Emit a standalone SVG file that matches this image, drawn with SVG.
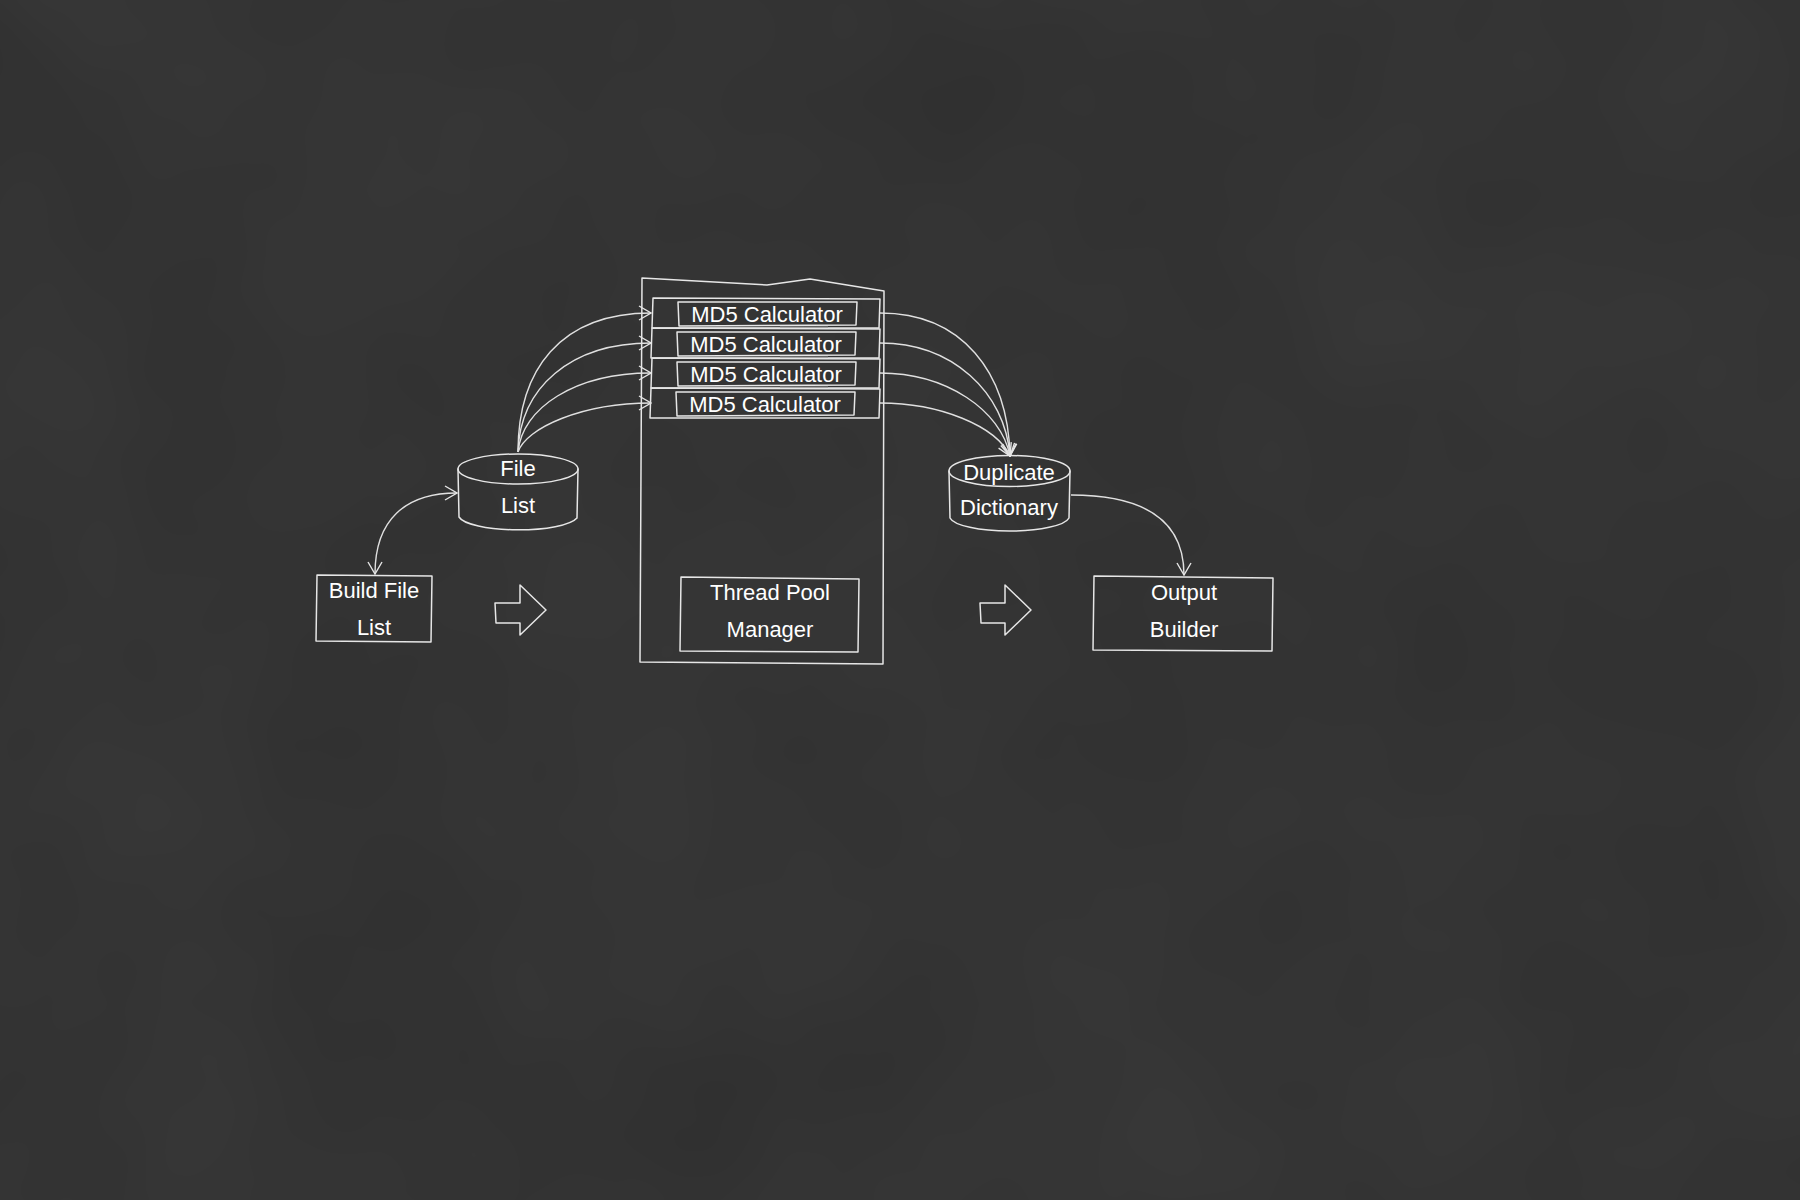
<svg xmlns="http://www.w3.org/2000/svg" width="1800" height="1200" viewBox="0 0 1800 1200">
<defs>
<style>
.ln{fill:none;stroke:#e6e6e6;stroke-width:1.5;stroke-linejoin:round;stroke-linecap:round}
.cn{fill:none;stroke:#e0e0e0;stroke-width:1.4}
.tx{fill:#ffffff;font-family:"Liberation Sans","DejaVu Sans",sans-serif;font-size:22px;text-anchor:middle}
.sm{fill:#8a8a8a;opacity:0.5}
</style>
<marker id="ah" viewBox="0 0 14 16" refX="13" refY="8" markerWidth="14" markerHeight="16" markerUnits="userSpaceOnUse" orient="auto-start-reverse">
<path d="M1,1 L13,8 L1,15" fill="none" stroke="#e6e6e6" stroke-width="1.4"/>
</marker>
<filter id="chalk" x="0" y="0" width="100%" height="100%">
<feTurbulence type="fractalNoise" baseFrequency="0.004" numOctaves="3" seed="7" result="n"/>
<feColorMatrix type="matrix" values="0 0 0 0 0.45  0 0 0 0 0.45  0 0 0 0 0.45  0 0 0 0.07 0"/>
</filter>
</defs>
<rect width="1800" height="1200" fill="#2f2f2f"/>
<rect width="1800" height="1200" filter="url(#chalk)"/>

<g id="connectors">
<path class="cn" marker-end="url(#ah)" d="M518,452 C518,370 560,313 651,313"/>
<path class="cn" marker-end="url(#ah)" d="M518,452 C520,388 570,343 651,343"/>
<path class="cn" marker-end="url(#ah)" d="M518,452 C522,408 575,373 651,373"/>
<path class="cn" marker-end="url(#ah)" d="M518,452 C526,428 582,403 651,403"/>
<path class="cn" marker-end="url(#ah)" d="M880,313 C962,313 1008,372 1010,456"/>
<path class="cn" marker-end="url(#ah)" d="M880,343 C952,343 1005,392 1010,456"/>
<path class="cn" marker-end="url(#ah)" d="M880,373 C946,373 1001,410 1010,456"/>
<path class="cn" marker-end="url(#ah)" d="M880,403 C940,403 996,426 1010,456"/>
<path class="cn" marker-start="url(#ah)" marker-end="url(#ah)" d="M375,574 C375,520 405,493 457,493"/>
<path class="cn" marker-end="url(#ah)" d="M1071,495 C1150,495 1184,525 1184,575"/>
</g>

<g id="build-file-list">
<path class="ln" d="M317,575 L432,576 L431,642 L316,641 Z"/>
<text class="tx" x="374" y="598">Build File</text>
<text class="tx" x="374" y="635">List</text>
</g>

<g id="arrow-1">
<path class="ln" d="M495,603 L520,603 L520,585 L546,610 L520,635 L520,623 L496,623 Z"/>
</g>

<g id="file-list">
<path class="ln" d="M458,469 A60,15 0 0,1 578,469 A60,15 0 0,1 458,469 Z"/>
<path class="ln" d="M458,469 L459,517 A60,15 0 0,0 577,518 L578,469"/>
<text class="tx" x="518" y="476">File</text>
<text class="tx" x="518" y="513">List</text>
</g>

<g id="thread-pool">
<path class="ln" d="M642,278 L767,285 L810,279 L884,291 L883,664 L640,662 Z"/>
</g>

<g id="md5-1">
<path class="ln" d="M653,298 L880,299 L879,328 L652,328 Z"/>
<rect class="sm" x="780" y="325" width="48" height="4"/>
<path class="ln" d="M678,302 L857,302 L856,325 L679,326 Z"/>
<text class="tx" x="767" y="322">MD5 Calculator</text>
</g>
<g id="md5-2">
<path class="ln" d="M652,328 L880,329 L879,358 L651,358 Z"/>
<rect class="sm" x="780" y="355" width="48" height="4"/>
<path class="ln" d="M677,332 L856,332 L855,355 L678,356 Z"/>
<text class="tx" x="766" y="352">MD5 Calculator</text>
</g>
<g id="md5-3">
<path class="ln" d="M652,358 L880,359 L879,388 L651,388 Z"/>
<rect class="sm" x="780" y="385" width="48" height="4"/>
<path class="ln" d="M677,362 L856,362 L855,385 L678,386 Z"/>
<text class="tx" x="766" y="382">MD5 Calculator</text>
</g>
<g id="md5-4">
<path class="ln" d="M651,388 L880,389 L879,418 L650,418 Z"/>
<path class="ln" d="M676,392 L855,392 L854,415 L677,416 Z"/>
<text class="tx" x="765" y="412">MD5 Calculator</text>
</g>

<g id="thread-pool-manager">
<path class="ln" d="M681,577 L859,579 L858,652 L680,651 Z"/>
<text class="tx" x="770" y="600">Thread Pool</text>
<text class="tx" x="770" y="637">Manager</text>
</g>

<g id="arrow-2">
<path class="ln" d="M980,603 L1005,603 L1005,585 L1031,610 L1005,635 L1005,623 L981,623 Z"/>
</g>

<g id="duplicate-dictionary">
<path class="ln" d="M949,471 A60.5,15.5 0 0,1 1070,471 A60.5,15.5 0 0,1 949,471 Z"/>
<path class="ln" d="M949,471 L950,518 A60,15 0 0,0 1069,518 L1070,471"/>
<text class="tx" x="1009" y="480">Duplicate</text>
<text class="tx" x="1009" y="515">Dictionary</text>
</g>

<g id="output-builder">
<path class="ln" d="M1094,576 L1273,578 L1272,651 L1093,650 Z"/>
<text class="tx" x="1184" y="600">Output</text>
<text class="tx" x="1184" y="637">Builder</text>
</g>
</svg>
